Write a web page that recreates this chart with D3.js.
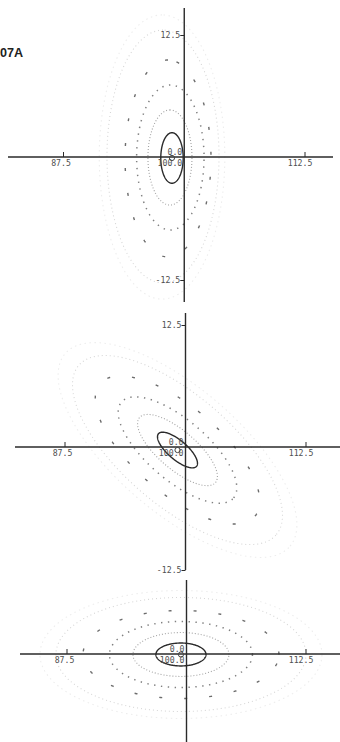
<!DOCTYPE html>
<html>
<head>
<meta charset="utf-8">
<script src="https://cdn.jsdelivr.net/npm/d3@7"></script>
<style>
  html, body { margin: 0; padding: 0; background: #ffffff; }
  svg { display: block; }
</style>
</head>
<body>
<svg id="chart" width="340" height="742"></svg>
<script>
// ---- data -------------------------------------------------------------
const figureLabel = "07A";
const xTickValues = [87.5, 112.5];
const yTickValues = [12.5, -12.5];
const originX = 100.0;
const originY = 0.0;
const originLabels = ["0.0", "100.0"];

// contour levels, innermost first (six per panel)
// Panel A: contours elongated along the vertical axis
const panelA_cx    = [98.73, 98.52, 98.56, 98.32, 97.80, 97.70];
const panelA_cy    = [-0.10, -0.05, -0.05, -0.15, 0.05, 0.00];
const panelA_major = [2.58, 4.85, 7.40, 10.05, 12.90, 14.50];
const panelA_minor = [1.16, 2.28, 3.49, 4.45, 5.80, 6.50];
const panelA_angle = 90;

// Panel B: contours tilted (negative correlation)
const panelB_cx    = [99.17, 99.17, 99.17, 99.17, 99.17, 99.17];
const panelB_cy    = [-0.31, -0.31, -0.31, -0.31, -0.31, -0.31];
const panelB_major = [2.58, 5.15, 7.60, 10.50, 13.40, 15.25];
const panelB_minor = [0.98, 1.96, 3.09, 4.43, 5.67, 6.40];
const panelB_angle = -40;

// Panel C: contours elongated along the horizontal axis
const panelC_cx    = [99.42, 99.42, 99.42, 99.42, 99.42, 99.42];
const panelC_cy    = [-0.05, -0.05, -0.05, -0.05, -0.05, -0.05];
const panelC_major = [2.62, 5.02, 7.48, 10.25, 13.08, 14.75];
const panelC_minor = [1.17, 2.24, 3.37, 4.49, 5.82, 6.53];
const panelC_angle = 0;

// ---- styling & layout ---------------------------------------------------
const levelStyle = [
  { stroke: "#2b2b2b", width: 1.4, dash: null },
  { stroke: "#a2a2a2", width: 1.1, dash: "1,2" },
  { stroke: "#808080", width: 1.5, dash: "1.4,5.5" },
  { stroke: "#6c6c6c", width: 1.4, dash: "3,22" },
  { stroke: "#d6d6d6", width: 1.1, dash: "1,3" },
  { stroke: "#ededed", width: 1.1, dash: "1.5,3.5" }
];

const panels = [
  { cx: panelA_cx, cy: panelA_cy, major: panelA_major, minor: panelA_minor, angle: panelA_angle,
    axisY: 157, xPix: [63.5, 305], hAxis: [8, 333], vAxis: [8, 302] },
  { cx: panelB_cx, cy: panelB_cy, major: panelB_major, minor: panelB_minor, angle: panelB_angle,
    axisY: 447, xPix: [65, 306], hAxis: [15, 340], vAxis: [313, 570] },
  { cx: panelC_cx, cy: panelC_cy, major: panelC_major, minor: panelC_minor, angle: panelC_angle,
    axisY: 654, xPix: [67, 306], hAxis: [20, 340], vAxis: [580, 742] }
];

const pxPerUnitY = 9.8;
const axisColor = "#2a2a2a";
const textColor = "#4f4f4f";
const monoFont = "'DejaVu Sans Mono', 'Liberation Mono', monospace";
const fontSize = 8.2;
const charW = fontSize * 0.602;

const svg = d3.select("#chart");

svg.append("text")
  .attr("x", 0).attr("y", 56.7)
  .attr("font-family", "'Liberation Sans', Arial, sans-serif")
  .attr("font-weight", "bold")
  .attr("font-size", 12.6)
  .attr("fill", "#222")
  .text(figureLabel);

function ellipsePoints(cx, cy, a, b, angleDeg) {
  const th = angleDeg * Math.PI / 180;
  const n = 240;
  return d3.range(n).map(i => {
    const t = 2 * Math.PI * i / n;
    const u = a * Math.cos(t), v = b * Math.sin(t);
    return [cx + u * Math.cos(th) - v * Math.sin(th),
            cy + u * Math.sin(th) + v * Math.cos(th)];
  });
}

panels.forEach(p => {
  const x = d3.scaleLinear().domain([xTickValues[0], xTickValues[1]]).range(p.xPix);
  const y = d3.scaleLinear().domain([-12.5, 12.5])
    .range([p.axisY + 12.5 * pxPerUnitY, p.axisY - 12.5 * pxPerUnitY]);
  const g = svg.append("g");

  const line = d3.line().x(d => x(d[0])).y(d => y(d[1])).curve(d3.curveLinearClosed);

  // contours, outermost first so the solid core sits on top
  const idx = d3.range(p.major.length).reverse();
  idx.forEach(i => {
    const s = levelStyle[i];
    g.append("path")
      .attr("d", line(ellipsePoints(p.cx[i], p.cy[i], p.major[i], p.minor[i], p.angle)))
      .attr("fill", "none")
      .attr("stroke", s.stroke)
      .attr("stroke-width", s.width)
      .attr("stroke-dasharray", s.dash)
      .attr("stroke-linecap", "butt");
  });

  const ox = x(originX), oy = y(originY);

  // axes
  g.append("line").attr("x1", p.hAxis[0]).attr("x2", p.hAxis[1])
    .attr("y1", oy).attr("y2", oy)
    .attr("stroke", axisColor).attr("stroke-width", 1.4);
  g.append("line").attr("x1", ox).attr("x2", ox)
    .attr("y1", p.vAxis[0]).attr("y2", p.vAxis[1])
    .attr("stroke", axisColor).attr("stroke-width", 1.4);

  // x ticks: decimal point sits on the tick
  xTickValues.forEach(v => {
    const tx = x(v);
    g.append("line").attr("x1", tx).attr("x2", tx).attr("y1", oy).attr("y2", oy - 5)
      .attr("stroke", axisColor).attr("stroke-width", 1);
    const lbl = v.toFixed(1);
    const dot = lbl.indexOf(".");
    g.append("text")
      .attr("x", tx - (dot + 0.5) * charW).attr("y", oy + 9)
      .attr("font-family", monoFont).attr("font-size", fontSize)
      .attr("fill", textColor).text(lbl);
  });

  // y ticks (only where the vertical axis reaches)
  yTickValues.forEach(v => {
    const ty = y(v);
    if (ty < p.vAxis[0] || ty > p.vAxis[1]) return;
    g.append("line").attr("x1", ox - 4).attr("x2", ox).attr("y1", ty + 1).attr("y2", ty + 1)
      .attr("stroke", axisColor).attr("stroke-width", 1);
    g.append("text")
      .attr("x", ox - 4).attr("y", ty + 3)
      .attr("text-anchor", "end")
      .attr("font-family", monoFont).attr("font-size", fontSize)
      .attr("fill", textColor).text(v.toFixed(1));
  });

  // origin labels
  g.append("text").attr("x", ox - 2).attr("y", oy - 2.5)
    .attr("text-anchor", "end")
    .attr("font-family", monoFont).attr("font-size", fontSize)
    .attr("fill", textColor).text(originLabels[0]);
  g.append("text").attr("x", ox - 2).attr("y", oy + 8.5)
    .attr("text-anchor", "end")
    .attr("font-family", monoFont).attr("font-size", fontSize)
    .attr("fill", textColor).text(originLabels[1]);

  // estimate marker at the contour centre
  g.append("circle")
    .attr("cx", x(p.cx[0])).attr("cy", y(p.cy[0])).attr("r", 2.6)
    .attr("fill", "none").attr("stroke", "#444").attr("stroke-width", 1);
});
</script>
</body>
</html>
